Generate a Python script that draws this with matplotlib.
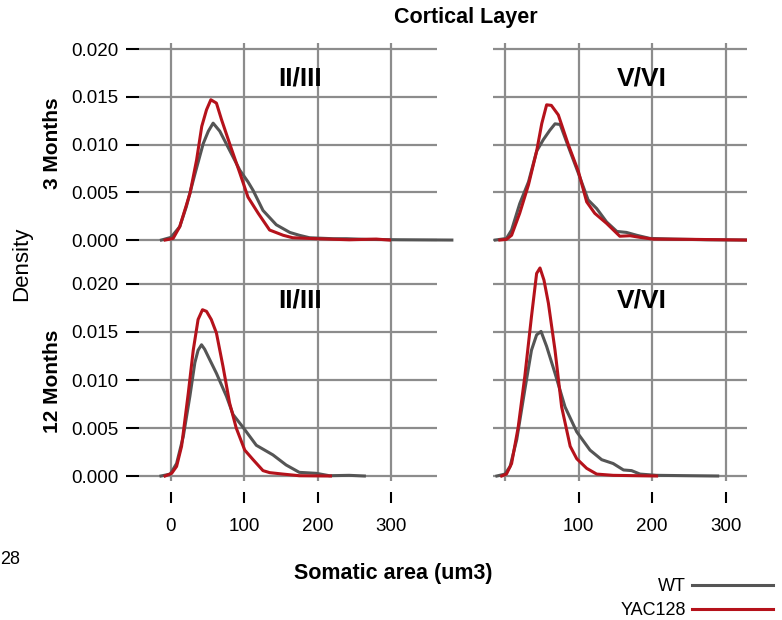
import matplotlib
matplotlib.use("Agg")
import matplotlib.pyplot as plt

plt.rcParams['font.family'] = ['Liberation Sans', 'DejaVu Sans']

# density curves (somatic area, density)
wt_3m_23_x = [-13, 0, 12, 21, 33, 44, 51, 57.5, 66.6, 80, 94, 105, 112, 125.5, 143.6, 162, 175, 189, 221, 239, 266, 311, 383]
wt_3m_23_y = [0, 0.00028, 0.0014, 0.0035, 0.0070, 0.0101, 0.0114, 0.01224, 0.0114, 0.0094, 0.0073, 0.0061, 0.0052,
              0.0031, 0.0016, 0.0008, 0.0005, 0.00024, 0.00014, 0.00014, 0.00007, 0.00003, 0]
yac_3m_23_x = [-8, 3, 12, 26, 35, 42, 48.5, 54.4, 62, 69, 80, 94, 105, 119, 134.5, 153, 166, 198, 243, 280, 298]
yac_3m_23_y = [0, 0.00017, 0.0014, 0.0049, 0.0084, 0.0119, 0.01364, 0.01469, 0.01434, 0.0126, 0.0101, 0.0070,
               0.0045, 0.0028, 0.00105, 0.0005, 0.00024, 0.00014, 0.00003, 0.0001, 0]

wt_3m_56_x = [-13, 2, 9, 20, 32, 43, 52, 61, 68, 75, 86, 99.7, 113, 124.6, 138, 152, 165, 179, 197, 229, 274, 328.5]
wt_3m_56_y = [0, 0.00017, 0.00105, 0.0038, 0.0061, 0.0093, 0.0105, 0.0115, 0.01217, 0.0121, 0.0098, 0.0070,
              0.0042, 0.0033, 0.0019, 0.0009, 0.0008, 0.0005, 0.00017, 0.0001, 0.00003, 0]
yac_3m_56_x = [-7, 2, 9, 20, 32, 43, 50, 56.6, 63, 72.5, 86, 99.7, 111, 122, 138, 156, 170, 183.5, 201, 256, 328.5]
yac_3m_56_y = [0, 0.00007, 0.0005, 0.0028, 0.0058, 0.0093, 0.0122, 0.01416, 0.0141, 0.0131, 0.0100, 0.0072,
               0.0040, 0.0028, 0.00175, 0.0004, 0.00045, 0.00028, 0.0001, 0.00007, 0]

wt_12m_23_x = [-13.6, -1, 7.7, 16.8, 25.8, 32.6, 37, 41.7, 46, 53, 62, 75.7, 84.7, 98, 116.4, 139, 157, 175, 198, 216, 243, 263.7]
wt_12m_23_y = [0, 0.0002, 0.0013, 0.0041, 0.0083, 0.0118, 0.0131, 0.01367, 0.0132, 0.0121, 0.0107, 0.0083,
               0.0064, 0.0051, 0.0032, 0.0022, 0.00115, 0.00038, 0.00028, 0.00003, 0.00007, 0]
yac_12m_23_x = [-8, 1, 7.7, 14.5, 23.6, 30.4, 37, 43, 48.5, 55, 62, 71, 80, 89, 100.6, 112, 125.5, 134.6, 152.7, 175, 217.5]
yac_12m_23_y = [0, 0.00028, 0.001, 0.0031, 0.0086, 0.0131, 0.0163, 0.01732, 0.01715, 0.0163, 0.0149, 0.0114,
                0.0076, 0.0050, 0.0027, 0.0017, 0.00056, 0.00035, 0.0002, 0.00003, 0]

wt_12m_56_x = [-11, 0, 7, 16, 27, 36, 43, 49, 56.6, 68, 81.6, 97.5, 115.5, 131.4, 147, 161, 172, 183.5, 206, 251.5, 289]
wt_12m_56_y = [0, 0.0002, 0.001, 0.0038, 0.0090, 0.0131, 0.0147, 0.01506, 0.0135, 0.0107, 0.0072, 0.0046,
               0.0027, 0.0017, 0.0013, 0.00063, 0.00056, 0.0002, 0.00007, 0.00003, 0]
yac_12m_56_x = [-4.5, 2, 9, 18, 27, 36, 43, 47.6, 53, 59, 68, 77, 88.6, 97.5, 111, 124.6, 147, 206]
yac_12m_56_y = [0, 0.0002, 0.0013, 0.0051, 0.0104, 0.0166, 0.0211, 0.02167, 0.0204, 0.0180, 0.0131, 0.0072,
                0.0031, 0.0018, 0.0008, 0.0002, 0.00007, 0]

layers = ['II/III', 'V/VI']
ages = ['3 Months', '12 Months']
genotypes = ['WT', 'YAC128']
y_ticks = [0.000, 0.005, 0.010, 0.015, 0.020]

wt_col = '#555555'
yac_col = '#B5121B'
grid_col = '#8c8c8c'

fig = plt.figure(figsize=(7.82, 6.2), dpi=100)

# axes boxes in figure fractions: [left, bottom, width, height]
ax_tl = fig.add_axes([0.1777, 0.5774, 0.3811, 0.3532])
ax_tr = fig.add_axes([0.6304, 0.5774, 0.3248, 0.3532])
ax_bl = fig.add_axes([0.1777, 0.2242, 0.3811, 0.3532])
ax_br = fig.add_axes([0.6304, 0.2242, 0.3248, 0.3532])

panels = [
    (ax_tl, wt_3m_23_x, wt_3m_23_y, yac_3m_23_x, yac_3m_23_y, layers[0], True, False),
    (ax_tr, wt_3m_56_x, wt_3m_56_y, yac_3m_56_x, yac_3m_56_y, layers[1], False, False),
    (ax_bl, wt_12m_23_x, wt_12m_23_y, yac_12m_23_x, yac_12m_23_y, layers[0], True, True),
    (ax_br, wt_12m_56_x, wt_12m_56_y, yac_12m_56_x, yac_12m_56_y, layers[1], False, True),
]

for ax, wx, wy, yx, yy, layer, is_left, is_bottom in panels:
    l_wt, = ax.plot(wx, wy, color=wt_col, lw=2.2, clip_on=not is_left, zorder=3)
    l_yac, = ax.plot(yx, yy, color=yac_col, lw=2.2, clip_on=not is_left, zorder=4)

    if is_left:
        ax.set_xlim(-43.6, 362.7)
        ax.set_xticks([0, 100, 200, 300])
    else:
        ax.set_xlim(-16.3, 328.8)
        ax.set_xticks([100, 200, 300])
        ax.set_xticks([0], minor=True)
    if is_bottom:
        ax.set_ylim(-0.00052, 0.02229)
    else:
        ax.set_ylim(-0.0023, 0.02063)
    ax.set_yticks(y_ticks)
    ax.set_yticklabels([f'{v:.3f}' for v in y_ticks])

    ax.grid(True, which='both', color=grid_col, lw=1.6)
    ax.set_axisbelow(True)
    for s in ax.spines.values():
        s.set_visible(False)
    ax.spines['bottom'].set_position(('outward', 8))

    ax.tick_params(which='minor', length=0)
    ax.tick_params(axis='x', direction='out', length=8, width=1.5, color='black',
                   labelsize=13.5, pad=11, bottom=is_bottom, labelbottom=is_bottom)
    ax.tick_params(axis='y', direction='out', length=9.5, width=1.5, color='black',
                   labelsize=13.5, pad=5, left=is_left, labelleft=is_left)

    tx = 0.540 if is_left else 0.587
    ty = 0.825 if is_bottom else 0.840
    ax.text(tx, ty, layer, transform=ax.transAxes, ha='center', va='center',
            fontsize=19, fontweight='bold')

fig.text(0.596, 0.971, 'Cortical Layer', ha='center', va='center', fontsize=15.5, fontweight='bold')
fig.text(0.028, 0.574, 'Density', ha='center', va='center', rotation=90, fontsize=16)
fig.text(0.0665, 0.769, ages[0], ha='center', va='center', rotation=90, fontsize=15, fontweight='bold')
fig.text(0.0665, 0.385, ages[1], ha='center', va='center', rotation=90, fontsize=15, fontweight='bold')
fig.text(0.5026, 0.0758, 'Somatic area (um3)', ha='center', va='center', fontsize=15.5, fontweight='bold')
# leftover label, only its tail shows at the left edge
fig.text(0.0, 0.0968, '28', ha='left', va='center', fontsize=13)

fig.legend([l_wt, l_yac], genotypes, loc='upper right', bbox_to_anchor=(0.989, 0.068),
           frameon=False, markerfirst=False, fontsize=13, handlelength=4.5,
           handletextpad=0.35, labelspacing=0.42, borderaxespad=0, borderpad=0)

fig.savefig('out.png', dpi=100)
